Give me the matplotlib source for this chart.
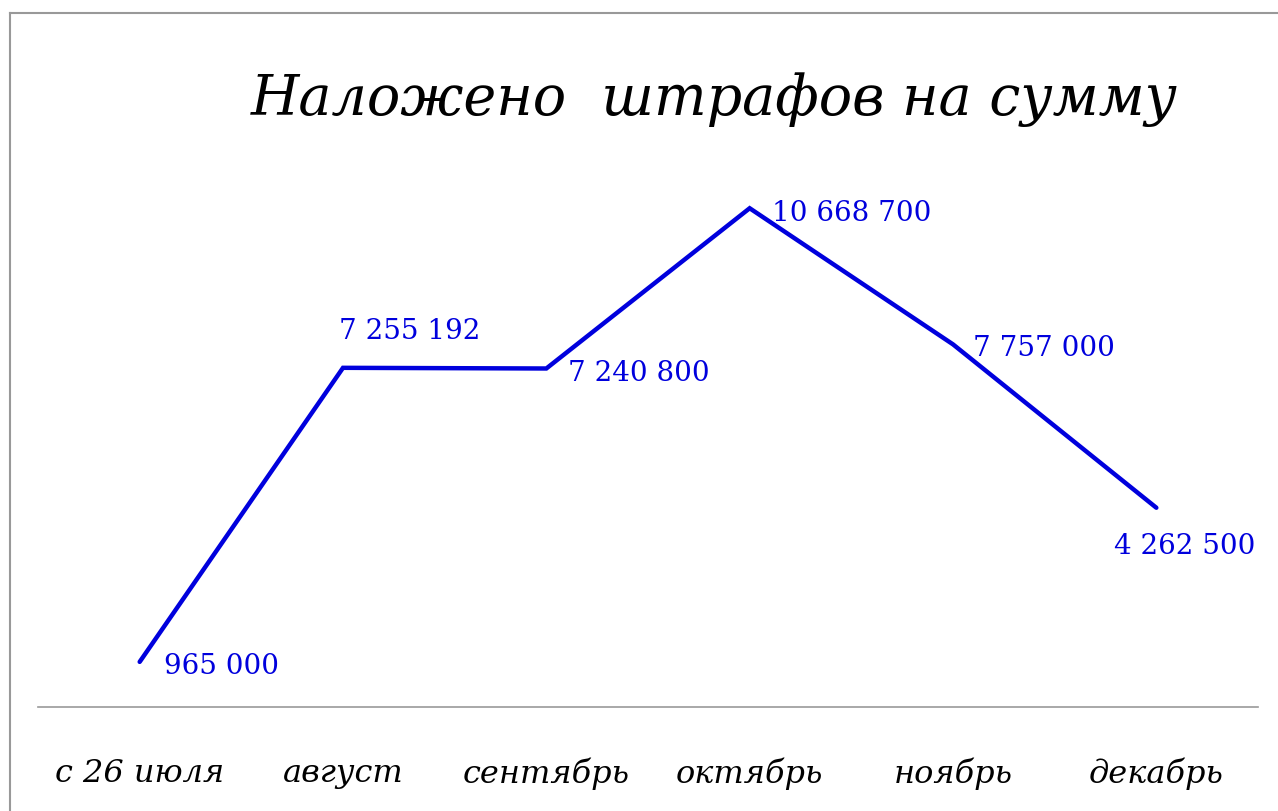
import matplotlib
matplotlib.use("Agg")
import matplotlib.pyplot as plt
from matplotlib.lines import Line2D

categories = ["с 26 июля", "август", "сентябрь", "октябрь", "ноябрь", "декабрь"]
values = [965000, 7255192, 7240800, 10668700, 7757000, 4262500]
labels = ["965 000", "7 255 192", "7 240 800", "10 668 700", "7 757 000", "4 262 500"]
title = "Наложено  штрафов на сумму"

plt.rcParams['font.family'] = ['DejaVu Serif', 'Liberation Serif']

W, H = 1278, 812
fig = plt.figure(figsize=(W / 100, H / 100), dpi=100)
ax = fig.add_axes([38 / W, (H - 708) / H, (1258 - 38) / W, (708 - 147) / H])

x = list(range(len(categories)))
blue = "#0000DD"
ax.plot(x, values, color=blue, lw=3.2, solid_capstyle='round', solid_joinstyle='miter')
ax.set_xlim(-0.5, len(categories) - 0.5)
ax.set_ylim(0, 12000000)

for s in ["top", "right", "left"]:
    ax.spines[s].set_visible(False)
ax.spines["bottom"].set_color("#999999")
ax.spines["bottom"].set_linewidth(1.2)
ax.set_yticks([])
ax.set_xticks(x)
ax.set_xticklabels(categories, fontsize=23, style='italic')
ax.tick_params(axis='x', length=0, pad=36)

# data label offsets (pixels) and alignment
offs = [((24, -4), 'left', 'center'),
        ((-4, 24), 'left', 'bottom'),
        ((22, -4), 'left', 'center'),
        ((22, -4), 'left', 'center'),
        ((20, -3), 'left', 'center'),
        ((28, -24), 'center', 'top')]
for xi, v, lab, (o, ha, va) in zip(x, values, labels, offs):
    ax.annotate(lab, (xi, v), xytext=o, textcoords='offset pixels',
                ha=ha, va=va, color=blue, fontsize=20)

fig.text(714 / W, 1 - 100 / H, title, ha='center', va='center',
         fontsize=40, style='italic')

# figure border (top and left)
fig.add_artist(Line2D([9.5 / W, 9.5 / W], [0, 1 - 14 / H], transform=fig.transFigure,
                      color="#999999", lw=1.5))
fig.add_artist(Line2D([9.5 / W, 1], [1 - 14 / H, 1 - 14 / H], transform=fig.transFigure,
                      color="#999999", lw=1.5))

fig.savefig("out.png", dpi=100)
